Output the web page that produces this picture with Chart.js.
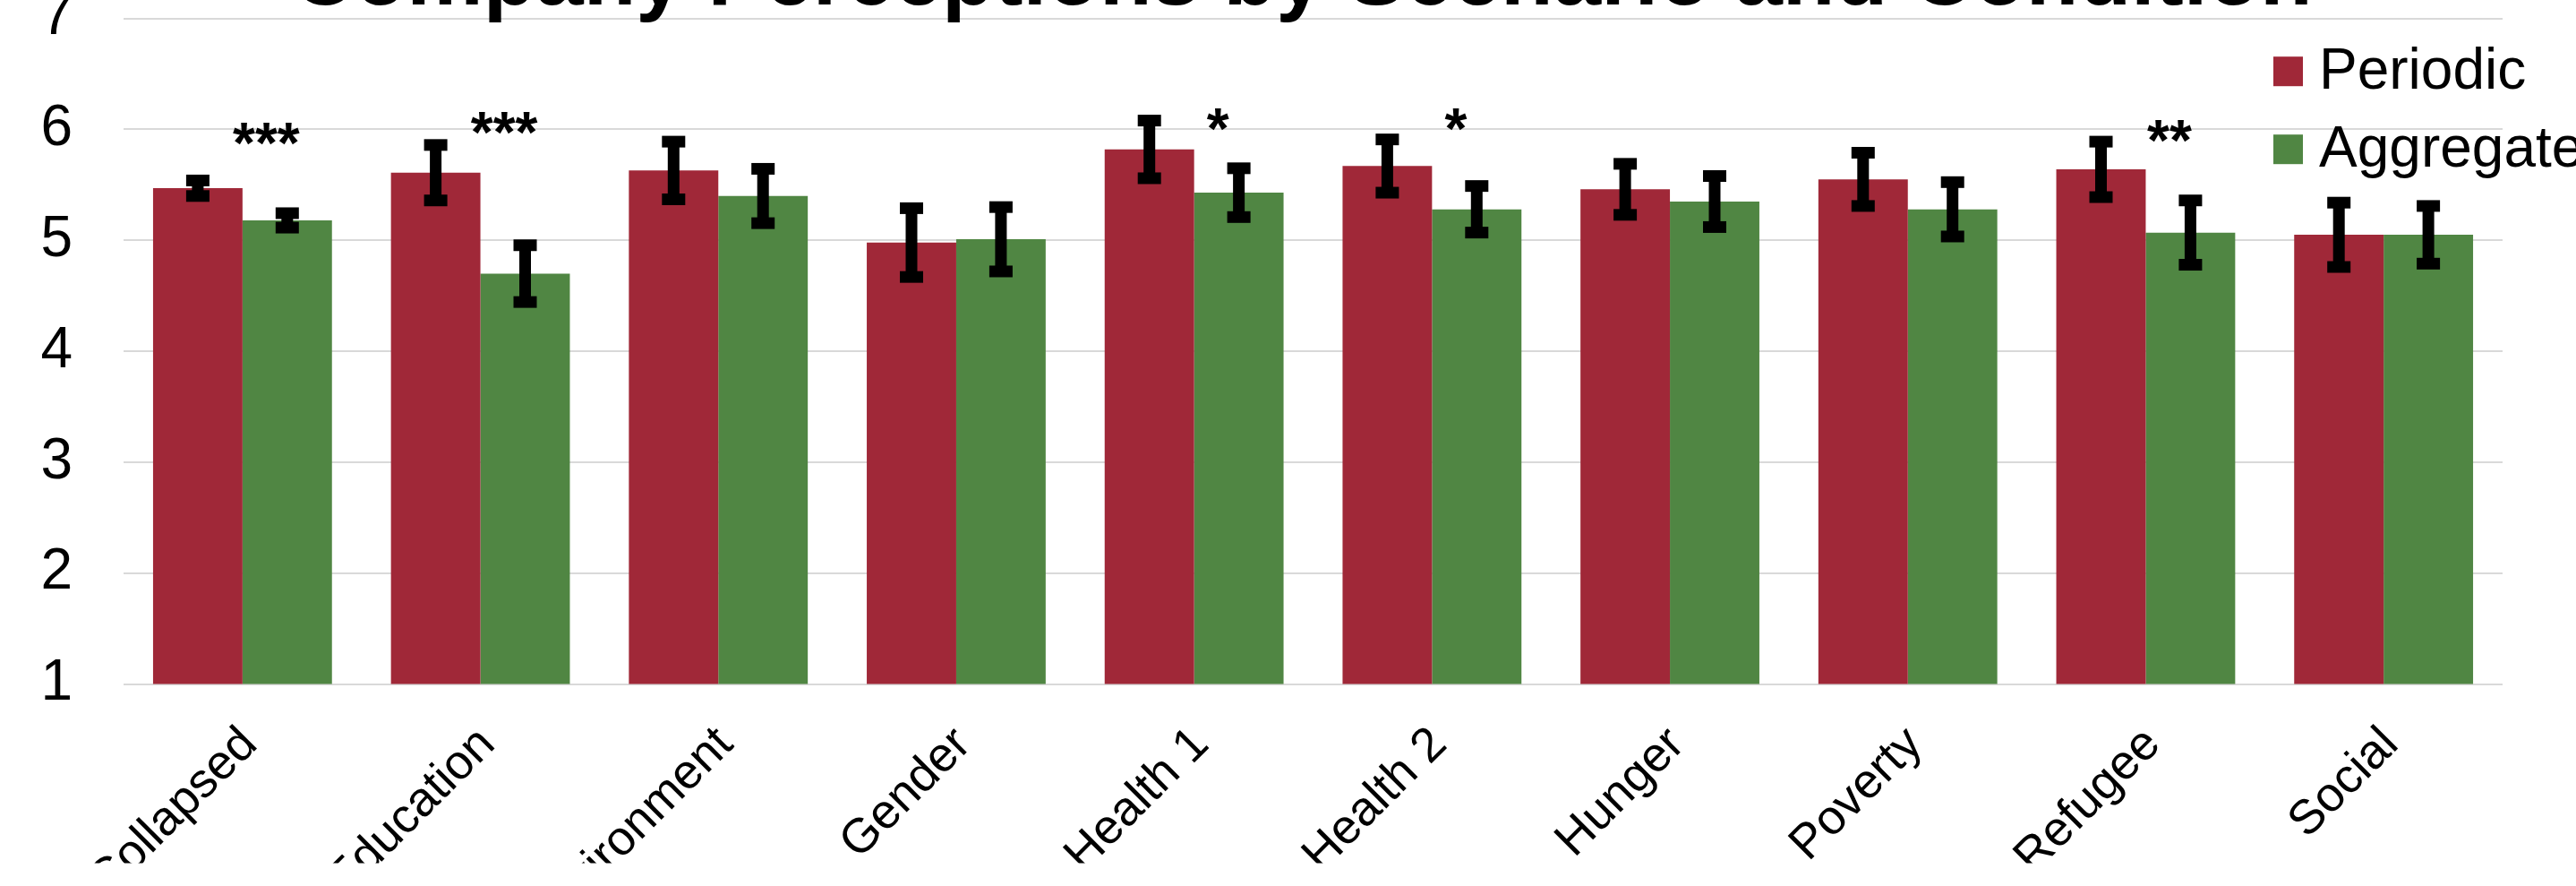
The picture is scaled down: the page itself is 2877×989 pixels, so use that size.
<!DOCTYPE html>
<html>
<head>
<meta charset="utf-8">
<script src="https://cdn.jsdelivr.net/npm/chart.js@4.4.1/dist/chart.umd.min.js"></script>
<style>
  html, body { margin: 0; padding: 0; background: #fff; overflow: hidden; }
  /* canvas is a bit taller than the window and pushed up, so the title gets cut like in the original */
  #wrap { position: absolute; left: 0; top: -100px; width: 2877px; height: 1150px; }
</style>
</head>
<body>
<div id="wrap"><canvas id="myChart"></canvas></div>
<script>
// data
const chartTitle = 'Company Perceptions by Scenario and Condition';
const scenarios = ['Collapsed', 'Education', 'Environment', 'Gender', 'Health 1', 'Health 2', 'Hunger', 'Poverty', 'Refugee', 'Social'];
const periodic = [5.47, 5.61, 5.63, 4.98, 5.82, 5.67, 5.46, 5.55, 5.64, 5.05];
const periodicErr = [0.07, 0.25, 0.26, 0.31, 0.26, 0.24, 0.23, 0.24, 0.25, 0.29];
const aggregate = [5.18, 4.70, 5.40, 5.01, 5.43, 5.28, 5.35, 5.28, 5.07, 5.05];
const aggregateErr = [0.065, 0.256, 0.245, 0.29, 0.22, 0.21, 0.23, 0.245, 0.29, 0.26];
const stars = ['***', '***', '', '', '*', '*', '', '', '**', ''];
const starLevel = [5.99, 6.09, 0, 0, 6.12, 6.12, 0, 0, 6.02, 0]; // where the stars sit, in y units
const yTicks = [1, 2, 3, 4, 5, 6, 7];

const FONT = "'Liberation Sans', Arial, sans-serif";
Chart.defaults.font.family = FONT;
Chart.defaults.color = '#000';

const errs = [periodicErr, aggregateErr];

// black I-shaped error bars
const errorBars = {
    id: 'errorBars',
    afterDatasetsDraw(chart) {
        const ctx = chart.ctx;
        const y = chart.scales.y;
        ctx.save();
        ctx.fillStyle = '#000';
        chart.data.datasets.forEach((ds, i) => {
            chart.getDatasetMeta(i).data.forEach((bar, j) => {
                const top = y.getPixelForValue(ds.data[j] + errs[i][j]);
                const bot = y.getPixelForValue(ds.data[j] - errs[i][j]);
                ctx.fillRect(bar.x - 6.5, top, 13, bot - top);
                ctx.fillRect(bar.x - 13, top - 6.5, 26, 13);
                ctx.fillRect(bar.x - 13, bot - 6.5, 26, 13);
            });
        });
        ctx.restore();
    }
};

// significance stars
const sigStars = {
    id: 'sigStars',
    afterDatasetsDraw(chart) {
        const ctx = chart.ctx;
        const x = chart.scales.x, y = chart.scales.y;
        const cat = x.width / scenarios.length;
        ctx.save();
        ctx.font = 'bold 64px ' + FONT;
        ctx.textAlign = 'center';
        ctx.textBaseline = 'alphabetic';
        ctx.fillStyle = '#000';
        stars.forEach((s, j) => {
            if (!s) return;
            ctx.fillText(s, x.getPixelForValue(j) + cat * 0.1, y.getPixelForValue(starLevel[j]) + 0.573 * 64);
        });
        ctx.restore();
    }
};

// title + legend drawn by hand (title is partly off the top, legend sits over the plot)
const titleLegend = {
    id: 'titleLegend',
    afterDraw(chart) {
        const ctx = chart.ctx;
        const area = chart.chartArea;
        ctx.save();
        ctx.fillStyle = '#000';
        ctx.font = 'bold 96px ' + FONT;
        ctx.textAlign = 'center';
        ctx.textBaseline = 'alphabetic';
        ctx.fillText(chartTitle, (area.left + area.right) / 2 - 12, area.top - 16);

        ctx.font = '64px ' + FONT;
        ctx.textAlign = 'left';
        const lx = area.right - 256;
        chart.data.datasets.forEach((ds, i) => {
            const top = area.top + 42.5 + i * 87;
            ctx.fillStyle = ds.backgroundColor;
            ctx.fillRect(lx, top, 33, 33);
            ctx.fillStyle = '#000';
            ctx.fillText(ds.label, lx + 51, top + 36);
        });
        ctx.restore();
    }
};

const ctx = document.getElementById('myChart').getContext('2d');
const myChart = new Chart(ctx, {
    type: 'bar',
    data: {
        labels: scenarios,
        datasets: [{
            label: 'Periodic',
            data: periodic,
            backgroundColor: '#A02838',
            categoryPercentage: 0.752,
            barPercentage: 1.0,
        }, {
            label: 'Aggregate',
            data: aggregate,
            backgroundColor: '#508643',
            categoryPercentage: 0.752,
            barPercentage: 1.0,
        }]
    },
    options: {
        responsive: true,
        maintainAspectRatio: false,
        animation: false,
        events: [],
        layout: { padding: { top: 120.7, right: 82, bottom: 86.5, left: 0 } },
        plugins: {
            legend: { display: false },
            title: { display: false },
            tooltip: { enabled: false }
        },
        scales: {
            x: {
                grid: { display: false },
                border: { display: false },
                ticks: {
                    font: { size: 54 },
                    color: '#000',
                    minRotation: 45,
                    maxRotation: 45,
                    padding: 28,
                    labelOffset: 8,
                    autoSkip: false
                },
                afterFit: s => { s.height = 200; }
            },
            y: {
                min: 1,
                max: 7,
                afterBuildTicks: s => { s.ticks = yTicks.map(v => ({ value: v })); },
                ticks: { font: { size: 64 }, color: '#000', padding: 57 },
                grid: { color: '#d9d9d9', lineWidth: 2, drawTicks: false },
                border: { display: false },
                afterFit: s => { s.width = 138; }
            }
        }
    },
    plugins: [errorBars, sigStars, titleLegend]
});
</script>
</body>
</html>
